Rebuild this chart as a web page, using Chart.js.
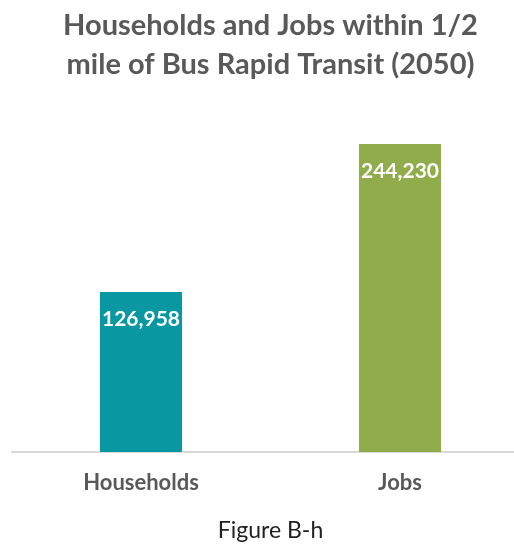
<!DOCTYPE html>
<html>
<head>
<meta charset="utf-8">
<script src="https://cdn.jsdelivr.net/npm/chart.js@4/dist/chart.umd.min.js"></script>
<style>
  html, body { margin: 0; padding: 0; background: #fff; overflow: hidden; }
  #wrap { width: 544px; height: 544px; }
</style>
</head>
<body>
<div id="wrap"><canvas id="c" width="544" height="544"></canvas></div>
<script>
// Categories and values
const categories = ['Households', 'Jobs'];
const values = [126958, 244230];
const barColors = ['#0997A1', '#90AC4B'];
const titleLines = ['Households and Jobs within 1/2', 'mile of Bus Rapid Transit (2050)'];
const figureCaption = 'Figure B-h';
const yMax = 290000;

// White value labels near the top inside each bar
const valueLabels = {
  id: 'valueLabels',
  afterDatasetsDraw(chart) {
    const ctx = chart.ctx;
    const meta = chart.getDatasetMeta(0);
    ctx.save();
    ctx.font = 'bold 21px Lato';
    ctx.fillStyle = '#ffffff';
    ctx.textAlign = 'center';
    ctx.textBaseline = 'middle';
    meta.data.forEach((bar, i) => {
      ctx.fillText(values[i].toLocaleString('en-US'), bar.x, bar.y + 27);
    });
    ctx.restore();
  }
};

new Chart(document.getElementById('c'), {
  type: 'bar',
  data: {
    labels: categories,
    datasets: [{
      data: values,
      backgroundColor: barColors,
      borderWidth: 0,
      categoryPercentage: 1,
      barPercentage: 0.317
    }]
  },
  options: {
    responsive: false,
    animation: false,
    devicePixelRatio: 1,
    layout: { padding: { left: 11.5, right: 14.5, top: 0, bottom: 0 } },
    plugins: {
      legend: { display: false },
      tooltip: { enabled: false },
      title: {
        display: true,
        text: titleLines,
        color: '#595959',
        font: { family: 'Lato', weight: 'bold', size: 29, lineHeight: 1.35 },
        padding: { top: 6, bottom: 2 }
      },
      subtitle: {
        display: true,
        position: 'bottom',
        text: figureCaption,
        color: '#222222',
        font: { family: 'Lato', weight: 'normal', size: 23 },
        padding: { top: 2, bottom: 0 }
      }
    },
    scales: {
      x: {
        grid: { display: false, drawTicks: false },
        border: { display: true, color: '#d9d9d9', width: 2 },
        ticks: {
          color: '#595959',
          font: { family: 'Lato', weight: 'bold', size: 22 },
          padding: 18
        }
      },
      y: {
        display: false,
        min: 0,
        max: yMax
      }
    }
  },
  plugins: [valueLabels]
});
</script>
</body>
</html>
